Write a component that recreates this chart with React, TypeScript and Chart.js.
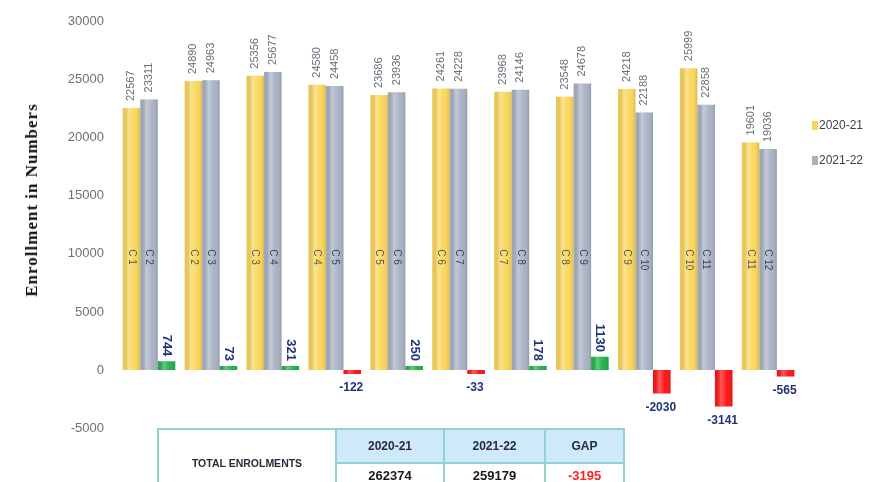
import React, { useEffect, useRef } from 'react';
import { Chart, registerables } from 'chart.js';

Chart.register(...registerables);

const categories = ['G1', 'G2', 'G3', 'G4', 'G5', 'G6', 'G7', 'G8', 'G9', 'G10', 'G11'];
const enrol2021 = [22567, 24890, 25356, 24580, 23686, 24261, 23968, 23548, 24218, 25999, 19601];
const enrol2122 = [23311, 24963, 25677, 24458, 23936, 24228, 24146, 24678, 22188, 22858, 19036];
const gaps = [744, 73, 321, -122, 250, -33, 178, 1130, -2030, -3141, -565];
const yellowTags = ['C 1', 'C 2', 'C 3', 'C 4', 'C 5', 'C 6', 'C 7', 'C 8', 'C 9', 'C 10', 'C 11'];
const grayTags = ['C 2', 'C 3', 'C 4', 'C 5', 'C 6', 'C 7', 'C 8', 'C 9', 'C 10', 'C 11', 'C 12'];
const seriesNames = ['2020-21', '2021-22'];
const yMin = -5000;
const yMax = 30000;
const yStep = 5000;
const tableHeader = ['TOTAL ENROLMENTS', '2020-21', '2021-22', 'GAP'];
const tableTotals = ['262374', '259179', '-3195'];

const YELLOW = '#FAD65C';
const GRAY = '#A9B2C4';
const GREEN = '#21B24B';
const RED = '#FF1414';
const NAVY = '#1F3377';

const labelPlugin = {
  id: 'labelPlugin',
  afterDatasetsDraw(chart: any) {
    const ctx = chart.ctx;
    const yScale = chart.scales.y;
    for (let d = 0; d < 3; d++) {
      const meta = chart.getDatasetMeta(d);
      meta.data.forEach((el: any) => {
        const w = el.width;
        const left = el.x - w / 2;
        const top = Math.min(el.y, el.base);
        const h = Math.abs(el.base - el.y);
        const g = ctx.createLinearGradient(left, 0, left + w, 0);
        g.addColorStop(0, 'rgba(0,0,0,0.04)');
        g.addColorStop(0.35, 'rgba(255,255,255,0.3)');
        g.addColorStop(0.7, 'rgba(255,255,255,0.0)');
        g.addColorStop(1, 'rgba(0,0,0,0.14)');
        ctx.save();
        ctx.fillStyle = g;
        ctx.fillRect(left, top, w, h);
        ctx.restore();
      });
    }
    [0, 1].forEach((d) => {
      const meta = chart.getDatasetMeta(d);
      const vals = d === 0 ? enrol2021 : enrol2122;
      const tags = d === 0 ? yellowTags : grayTags;
      meta.data.forEach((el: any, i: number) => {
        ctx.save();
        ctx.translate(el.x, el.y - 7);
        ctx.rotate(-Math.PI / 2);
        ctx.font = '11px "Liberation Sans", Arial, sans-serif';
        ctx.fillStyle = '#6a6e7a';
        ctx.textAlign = 'left';
        ctx.textBaseline = 'middle';
        ctx.fillText(String(vals[i]), 0, 0);
        ctx.restore();

        ctx.save();
        ctx.translate(el.x, yScale.getPixelForValue(10400));
        ctx.rotate(Math.PI / 2);
        ctx.font = '10px "Liberation Sans", Arial, sans-serif';
        ctx.fillStyle = d === 0 ? '#5b5a50' : '#3e4660';
        ctx.textAlign = 'left';
        ctx.textBaseline = 'middle';
        ctx.fillText(tags[i], 0, 0);
        ctx.restore();
      });
    });
    const gm = chart.getDatasetMeta(2);
    gm.data.forEach((el: any, i: number) => {
      const v = gaps[i];
      ctx.save();
      ctx.fillStyle = NAVY;
      if (v >= 0) {
        ctx.translate(el.x, el.y - 5);
        ctx.rotate(Math.PI / 2);
        ctx.font = 'bold 13px "Liberation Sans", Arial, sans-serif';
        ctx.textAlign = 'right';
        ctx.textBaseline = 'middle';
        ctx.fillText(String(v), 0, 0);
      } else {
        ctx.font = 'bold 12px "Liberation Sans", Arial, sans-serif';
        ctx.textAlign = 'center';
        ctx.textBaseline = 'top';
        ctx.fillText(String(v), el.x - 1, el.y + 8);
      }
      ctx.restore();
    });
  },
};

export default function App() {
  const ref = useRef<HTMLCanvasElement | null>(null);

  useEffect(() => {
    if (!ref.current) return;
    const chart = new Chart(ref.current, {
      type: 'bar',
      data: {
        labels: categories,
        datasets: [
          { label: seriesNames[0], data: enrol2021, backgroundColor: YELLOW, borderWidth: 0 },
          { label: seriesNames[1], data: enrol2122, backgroundColor: GRAY, borderWidth: 0 },
          {
            label: 'Gap',
            data: gaps,
            backgroundColor: gaps.map((g) => (g >= 0 ? GREEN : RED)),
            borderWidth: 0,
            minBarLength: 4,
          },
        ],
      },
      options: {
        responsive: false,
        animation: false,
        datasets: {
          bar: { categoryPercentage: 0.85, barPercentage: 1 },
        },
        layout: { padding: { left: 0, right: 73, top: 15, bottom: 54 } },
        plugins: {
          legend: { display: false },
          tooltip: { enabled: false },
        },
        scales: {
          x: { display: false },
          y: {
            min: yMin,
            max: yMax,
            afterFit: (s: any) => {
              s.width = 118;
            },
            grid: { display: false, drawTicks: false },
            border: { display: false },
            ticks: {
              stepSize: yStep,
              padding: 14,
              color: '#707070',
              font: { family: '"Liberation Sans", Arial, sans-serif', size: 13 },
              callback: (v: any) => String(v),
            },
          },
        },
      },
      plugins: [labelPlugin],
    });
    return () => chart.destroy();
  }, []);

  const cellBorder = '2px solid #93d3cb';
  const font = '"Liberation Sans", Arial, sans-serif';

  return (
    <div style={{ position: 'fixed', left: 0, top: 0, width: 872, height: 482, overflow: 'hidden', background: '#fff' }}>
      <canvas ref={ref} width={872} height={482} style={{ position: 'absolute', left: 0, top: 0 }} />
      <div
        style={{
          position: 'absolute',
          left: 32,
          top: 200,
          transform: 'translate(-50%, -50%) rotate(-90deg)',
          whiteSpace: 'nowrap',
          fontFamily: '"Liberation Serif", "Times New Roman", serif',
          fontWeight: 'bold',
          fontSize: 17,
          letterSpacing: 1,
          color: '#111',
        }}
      >
        Enrollment in Numbers
      </div>
      <div style={{ position: 'absolute', left: 812, top: 117, fontFamily: font, fontSize: 12, color: '#404040' }}>
        <div style={{ display: 'flex', alignItems: 'center', height: 16 }}>
          <span style={{ display: 'inline-block', width: 6, height: 9, background: YELLOW, marginRight: 1 }} />
          {seriesNames[0]}
        </div>
        <div style={{ display: 'flex', alignItems: 'center', height: 16, marginTop: 19 }}>
          <span style={{ display: 'inline-block', width: 6, height: 9, background: GRAY, marginRight: 1 }} />
          {seriesNames[1]}
        </div>
      </div>
      <table
        style={{
          position: 'absolute',
          left: 157,
          top: 428,
          borderCollapse: 'collapse',
          fontFamily: font,
          tableLayout: 'fixed',
          width: 466,
        }}
      >
        <colgroup>
          <col style={{ width: 178 }} />
          <col style={{ width: 108 }} />
          <col style={{ width: 101 }} />
          <col style={{ width: 79 }} />
        </colgroup>
        <tbody>
          <tr style={{ height: 34 }}>
            <td
              rowSpan={2}
              style={{ border: cellBorder, textAlign: 'center', fontWeight: 'bold', fontSize: 10.5, color: '#2a2a3a', paddingTop: 4 }}
            >
              {tableHeader[0]}
            </td>
            {tableHeader.slice(1).map((h) => (
              <td
                key={h}
                style={{ border: cellBorder, background: '#cde9fa', textAlign: 'center', fontWeight: 'bold', fontSize: 12, color: '#2a2a3a' }}
              >
                {h}
              </td>
            ))}
          </tr>
          <tr style={{ height: 30 }}>
            {tableTotals.map((v, i) => (
              <td
                key={i}
                style={{
                  border: cellBorder,
                  textAlign: 'center',
                  verticalAlign: 'top',
                  paddingTop: 4,
                  fontWeight: 'bold',
                  fontSize: 13,
                  color: i === 2 ? '#ff2020' : '#1a1a1a',
                }}
              >
                {v}
              </td>
            ))}
          </tr>
        </tbody>
      </table>
    </div>
  );
}
